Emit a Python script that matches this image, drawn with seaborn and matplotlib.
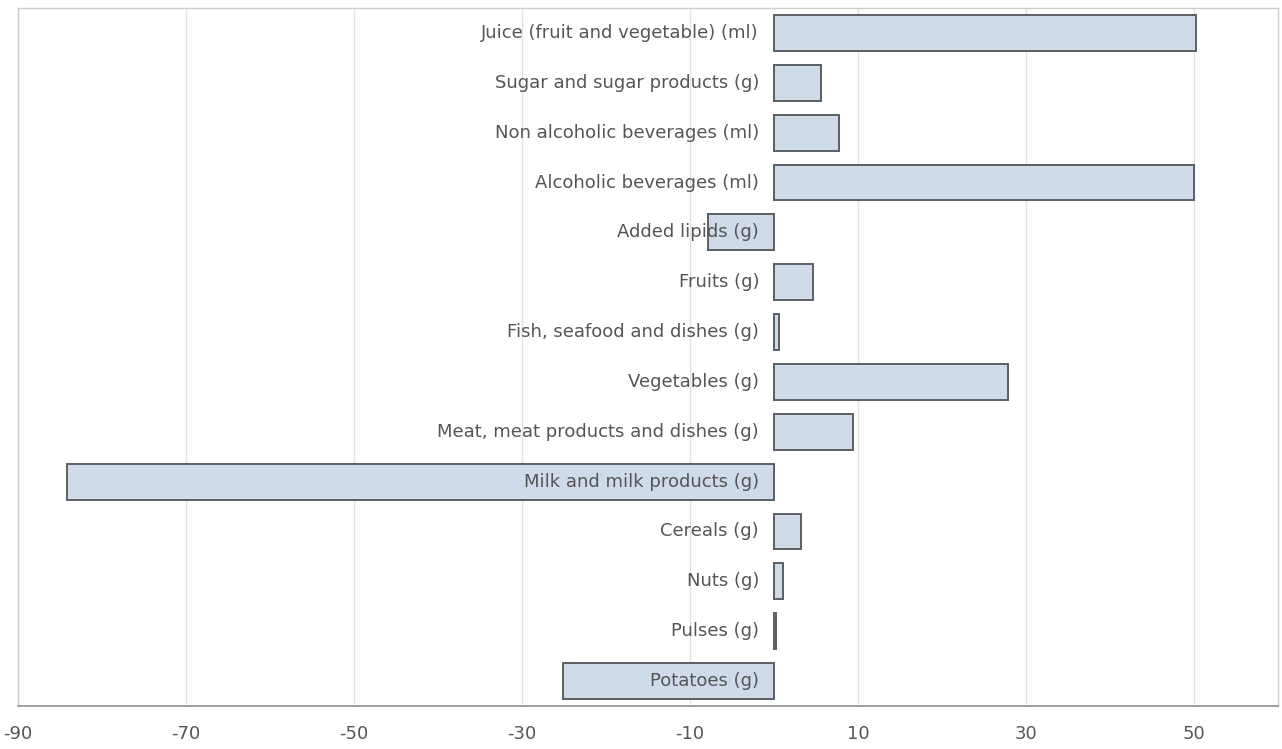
import matplotlib
matplotlib.use("Agg")
import matplotlib.pyplot as plt
import matplotlib.transforms as mtransforms
import seaborn as sns
import pandas as pd

# Food groups, top to bottom, and their change in daily intake
categories = [
    "Juice (fruit and vegetable) (ml)",
    "Sugar and sugar products (g)",
    "Non alcoholic beverages (ml)",
    "Alcoholic beverages (ml)",
    "Added lipids (g)",
    "Fruits (g)",
    "Fish, seafood and dishes (g)",
    "Vegetables (g)",
    "Meat, meat products and dishes (g)",
    "Milk and milk products (g)",
    "Cereals (g)",
    "Nuts (g)",
    "Pulses (g)",
    "Potatoes (g)",
]
values = [50.2, 5.6, 7.7, 50.0, -7.8, 4.7, 0.6, 27.9, 9.4, -84.2, 3.2, 1.1, 0.2, -25.1]
x_ticks = [-90, -70, -50, -30, -10, 10, 30, 50]

df = pd.DataFrame({"group": categories, "change": values})

sns.set_theme(style="white")
plt.rcParams["font.family"] = ["DejaVu Sans"]
plt.rcParams["axes.unicode_minus"] = False

W, H = 1282, 749
fig = plt.figure(figsize=(W / 100, H / 100), dpi=100)
left, right, top, bottom = 18, 1278, 8, 706
ax = fig.add_axes([left / W, 1 - bottom / H, (right - left) / W, (bottom - top) / H])

sns.barplot(
    data=df, y="group", x="change", order=categories, orient="h",
    color="#cfdbe8", edgecolor="#5a5f66", linewidth=1.4, width=0.72,
    saturation=1, ax=ax, zorder=3,
)

ax.set_xlim(-90, 60)
ax.set_ylim(len(categories) - 0.5, -0.5)
ax.set_xticks(x_ticks)
ax.set_xticklabels([str(t) for t in x_ticks], fontsize=13, color="#555555")
ax.tick_params(axis="x", length=0, pad=14)
ax.set_yticks([])
ax.set_xlabel("")
ax.set_ylabel("")

for t in x_ticks:
    ax.axvline(t, color="#e2e2e2", linewidth=1, zorder=0)

for name, sp in ax.spines.items():
    sp.set_color("#cccccc")
    sp.set_linewidth(1)
ax.spines["bottom"].set_color("#a0a0a0")
ax.spines["bottom"].set_linewidth(1.4)

# Category names sit just left of the zero line
offset = mtransforms.offset_copy(ax.transData, fig=fig, x=-15, y=0, units="dots")
for i, name in enumerate(categories):
    ax.text(0, i, name, ha="right", va="center", fontsize=13,
            color="#555555", transform=offset, zorder=4)

fig.savefig("out.png", dpi=100)
